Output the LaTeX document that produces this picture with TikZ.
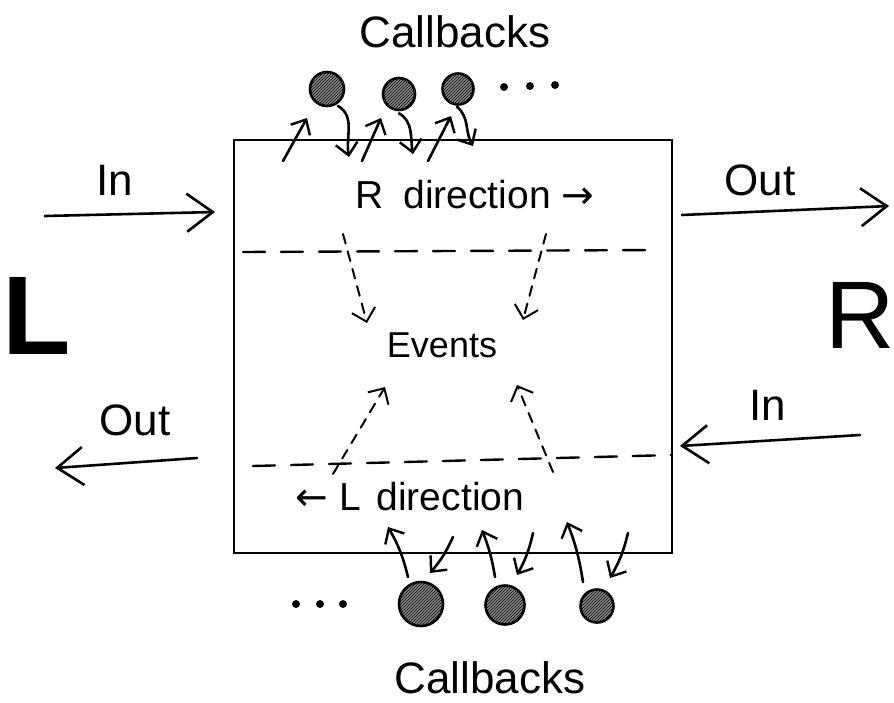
\documentclass[tikz,border=0pt]{standalone}
\usepackage{fontspec}
\setmainfont{Liberation Sans}
\newfontfamily\arrowfont{DejaVu Sans}
\usetikzlibrary{arrows.meta,patterns}
\begin{document}
\begin{tikzpicture}[x=1pt,y=-1pt,
  hand/.style={line width=2.6pt,line cap=round,line join=round},
  harrow/.style={hand,-{Straight Barb[length=12pt,width=22pt,line width=2.4pt]}},
  sidearrow/.style={hand,-{Straight Barb[length=26pt,width=38pt,line width=2.6pt]}},
  darrow/.style={line width=2pt,line cap=round,dash pattern=on 10pt off 8pt,-{Straight Barb[length=12pt,width=24pt,line width=2pt]}},
  dline/.style={line width=2.4pt,line cap=round,dash pattern=on 22pt off 16pt},
  cb/.style={circle,draw,line width=2.6pt,preaction={fill=black!45},pattern=north east lines},
  txt/.style={inner sep=0pt,font=\fontsize{36}{40}\selectfont},
  dirtxt/.style={inner sep=0pt,font=\fontsize{39}{42}\selectfont},
  big/.style={inner sep=0pt,font=\fontsize{96}{100}\selectfont}
]
\useasboundingbox (0,0) rectangle (894,702);
\fill[white] (0,0) rectangle (894,702);

% main box
\node[draw,line width=2.6pt,minimum width=438pt,minimum height=413pt,inner sep=0pt] (box) at (453,346.5) {};

% titles
\node[txt,font=\fontsize{44}{48}\selectfont] (cbtop) at (455,32) {Callbacks};
\node[txt,font=\fontsize{44}{48}\selectfont] (cbbot) at (490,678) {Callbacks};
\node[big,font=\fontsize{112}{116}\selectfont\bfseries] (L) at (37,316) {L};
\node[big] (R) at (860,315) {R};

% side arrows and labels
\node[txt,font=\fontsize{44}{48}\selectfont] (inL) at (115,180) {In};
\coordinate (inLa) at (45,216);
\coordinate (inLb) at (215,212);
\draw[sidearrow] (inLa) -- (inLb);
\node[txt,font=\fontsize{44}{48}\selectfont] (outR) at (760,180) {Out};
\coordinate (outRa) at (682,215);
\coordinate (outRb) at (889,206);
\draw[sidearrow] (outRa) -- (outRb);
\node[txt,font=\fontsize{44}{48}\selectfont] (inR) at (768,405) {In};
\coordinate (inRa) at (860,435);
\coordinate (inRb) at (680,446);
\draw[sidearrow] (inRa) -- (inRb);
\node[txt,font=\fontsize{44}{48}\selectfont] (outL) at (135,420) {Out};
\coordinate (outLa) at (197,458);
\coordinate (outLb) at (55,468);
\draw[sidearrow] (outLa) -- (outLb);

% direction labels
\node[dirtxt] (rdir) at (475,195) {R\hspace{0.5em}direction {\arrowfont →}};
\node[dirtxt] (ldir) at (410,497) {{\arrowfont ←} L\hspace{0.4em}direction};
\node[txt] (events) at (442,345) {Events};

% dashed dividers
\coordinate (d1a) at (243,252);
\coordinate (d1b) at (658,250);
\draw[dline] (d1a) -- (d1b);
\coordinate (d2a) at (253,466);
\coordinate (d2b) at (672,455);
\draw[dline] (d2a) -- (d2b);

% dashed arrows to/from events
\coordinate (e1a) at (343,234);
\coordinate (e1b) at (367,323);
\draw[darrow] (e1a) -- (e1b);
\coordinate (e2a) at (546,234);
\coordinate (e2b) at (523,320);
\draw[darrow] (e2a) -- (e2b);
\coordinate (e3a) at (333,474);
\coordinate (e3b) at (385,387);
\draw[darrow] (e3a) -- (e3b);
\coordinate (e4a) at (553,472);
\coordinate (e4b) at (517,385);
\draw[darrow] (e4a) -- (e4b);

% top callbacks
\node[cb,minimum size=34pt] (t1) at (327,89) {};
\node[cb,minimum size=32pt] (t2) at (399,94) {};
\node[cb,minimum size=31pt] (t3) at (458,89) {};
\node[circle,fill,inner sep=2.8pt] (td1) at (504,87) {};
\node[circle,fill,inner sep=2.8pt] (td2) at (530,86) {};
\node[circle,fill,inner sep=2.8pt] (td3) at (555,85) {};

\coordinate (u1a) at (283,161);
\coordinate (u1b) at (307,118);
\draw[harrow] (u1a) -- (u1b);
\coordinate (u2a) at (362,161);
\coordinate (u2b) at (381,118);
\draw[harrow] (u2a) -- (u2b);
\coordinate (u3a) at (428,161);
\coordinate (u3b) at (451,116);
\draw[harrow] (u3a) -- (u3b);
\coordinate (v1) at (349,157);
\draw[harrow] (t1.south east) ++(-2,4) coordinate (v1s) (v1s) to[out=-30,in=100] (v1);
\coordinate (v2) at (413,154);
\draw[harrow] (t2.south) ++(0,2) coordinate (v2s) (v2s) to[out=-30,in=100] (v2);
\coordinate (v3) at (473,146);
\draw[harrow] (t3.south) ++(-1,1) coordinate (v3s) (v3s) to[out=-40,in=120] (v3);

% bottom callbacks
\node[cb,minimum size=44pt] (b1) at (421,604) {};
\node[cb,minimum size=39pt] (b2) at (505,605) {};
\node[cb,minimum size=33pt] (b3) at (597,606) {};
\node[circle,fill,inner sep=2.8pt] (bd1) at (296,604) {};
\node[circle,fill,inner sep=2.8pt] (bd2) at (320,604) {};
\node[circle,fill,inner sep=2.8pt] (bd3) at (343,604) {};

\coordinate (p1a) at (408,577);
\coordinate (p1b) at (388,527);
\draw[harrow] (p1a) to[bend right=8] (p1b);
\coordinate (q1a) at (453,537);
\coordinate (q1b) at (430,573);
\draw[harrow] (q1a) to[bend left=8] (q1b);
\coordinate (p2a) at (495,577);
\coordinate (p2b) at (482,530);
\draw[harrow] (p2a) to[bend right=6] (p2b);
\coordinate (q2a) at (533,533);
\coordinate (q2b) at (517,575);
\draw[harrow] (q2a) to[bend left=8] (q2b);
\coordinate (p3a) at (583,582);
\coordinate (p3b) at (567,522);
\draw[harrow] (p3a) to[bend right=6] (p3b);
\coordinate (q3a) at (628,533);
\coordinate (q3b) at (610,578);
\draw[harrow] (q3a) to[bend left=8] (q3b);
\end{tikzpicture}
\end{document}
